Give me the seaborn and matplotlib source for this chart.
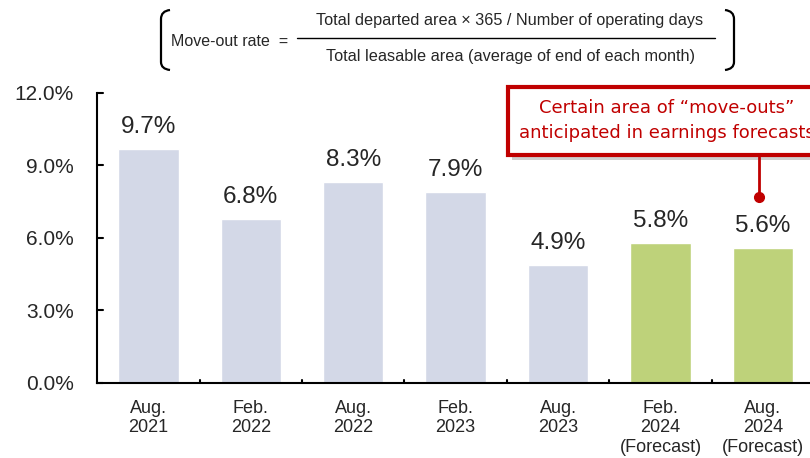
import pandas as pd
import seaborn as sns
import matplotlib.pyplot as plt
from matplotlib.patches import Rectangle, PathPatch
from matplotlib.path import Path

periods = ["Aug.\n2021", "Feb.\n2022", "Aug.\n2022", "Feb.\n2023", "Aug.\n2023",
           "Feb.\n2024\n(Forecast)", "Aug.\n2024\n(Forecast)"]
rates = [9.7, 6.8, 8.3, 7.9, 4.9, 5.8, 5.6]
kind = ["Actual", "Actual", "Actual", "Actual", "Actual", "Forecast", "Forecast"]
yticks = [0, 3, 6, 9, 12]

df = pd.DataFrame({"period": periods, "rate": rates, "kind": kind})

sns.set_style("white")
plt.rcParams["font.family"] = ["Liberation Sans", "DejaVu Sans"]

W, H = 810, 458
fig = plt.figure(figsize=(8.1, 4.58), dpi=100)
ax = fig.add_axes([0.12, 0.164, 0.88, 0.633])

palette = {"Actual": "#D3D8E7", "Forecast": "#BED27A"}
sns.barplot(data=df, x="period", y="rate", hue="kind", palette=palette,
            dodge=False, width=0.59, legend=False, ax=ax, saturation=1)

ax.set_xlim(-0.5, 6.46)
ax.set_ylim(0, 12)
ax.set_yticks(yticks)
ax.set_yticklabels([f"{v:.1f}%" for v in yticks], fontsize=15)
ax.set_xticks(range(len(periods)))
ax.set_xticklabels(periods, fontsize=13, linespacing=1.2)
ax.tick_params(axis="x", length=0, pad=12)
ax.tick_params(axis="y", length=0, pad=17)
for t in [i + 0.5 for i in range(len(periods) - 1)]:
    ax.plot([t, t], [0, 0.12], color="black", lw=1.5, clip_on=False)
for v in yticks:
    ax.plot([-0.5, -0.44], [v, v], color="black", lw=1.5, clip_on=False)
ax.set_xlabel("")
ax.set_ylabel("")
for s in ["top", "right"]:
    ax.spines[s].set_visible(False)
for s in ["left", "bottom"]:
    ax.spines[s].set_color("black")
    ax.spines[s].set_linewidth(1.5)

for i, v in enumerate(rates):
    ax.text(i, v + 0.45, f"{v:.1f}%", ha="center", va="bottom", fontsize=17.5)


def px(x, y):
    return (x / W, 1 - y / H)


# formula box
fig.text(*px(230, 41), "Move-out rate  =", ha="center", va="center", fontsize=11.5)
fig.text(*px(510, 21), "Total departed area \u00d7 365 / Number of operating days",
         ha="center", va="center", fontsize=11.7)
fig.text(*px(510, 56), "Total leasable area (average of end of each month)",
         ha="center", va="center", fontsize=11.7)
fig.add_artist(plt.Line2D([297 / W, 715 / W], [1 - 38 / H] * 2, color="black", lw=1))


def bracket(x_end, x_mid):
    verts = [px(x_end, 10), px(x_mid, 11), px(x_mid, 19), px(x_mid, 62),
             px(x_mid, 69), px(x_end, 70)]
    codes = [Path.MOVETO, Path.CURVE3, Path.CURVE3, Path.LINETO, Path.CURVE3, Path.CURVE3]
    fig.add_artist(PathPatch(Path(verts, codes), transform=fig.transFigure,
                             facecolor="none", edgecolor="black", lw=1.6))


bracket(170, 161)
bracket(725, 734)

# callout
fig.add_artist(Rectangle(px(512, 160), 0.4, 0.15, transform=fig.transFigure,
                         facecolor="#BBBBBB", edgecolor="none", alpha=0.7, zorder=4))
fig.add_artist(Rectangle(px(508, 155), 0.4, 68 / H, transform=fig.transFigure,
                         facecolor="white", edgecolor="#C00000", lw=3, zorder=5))
fig.text(*px(667, 108), "Certain area of \u201cmove-outs\u201d", ha="center", va="center",
         fontsize=13, color="#C00000", family="DejaVu Sans", zorder=6)
fig.text(*px(667, 133), "anticipated in earnings forecasts", ha="center", va="center",
         fontsize=13, color="#C00000", family="DejaVu Sans", zorder=6)
fig.add_artist(plt.Line2D([759 / W] * 2, [1 - 157 / H, 1 - 197 / H], color="#C00000",
                          lw=2, marker="o", markevery=[1], markersize=7, zorder=6))

fig.savefig("out.png", dpi=100)
